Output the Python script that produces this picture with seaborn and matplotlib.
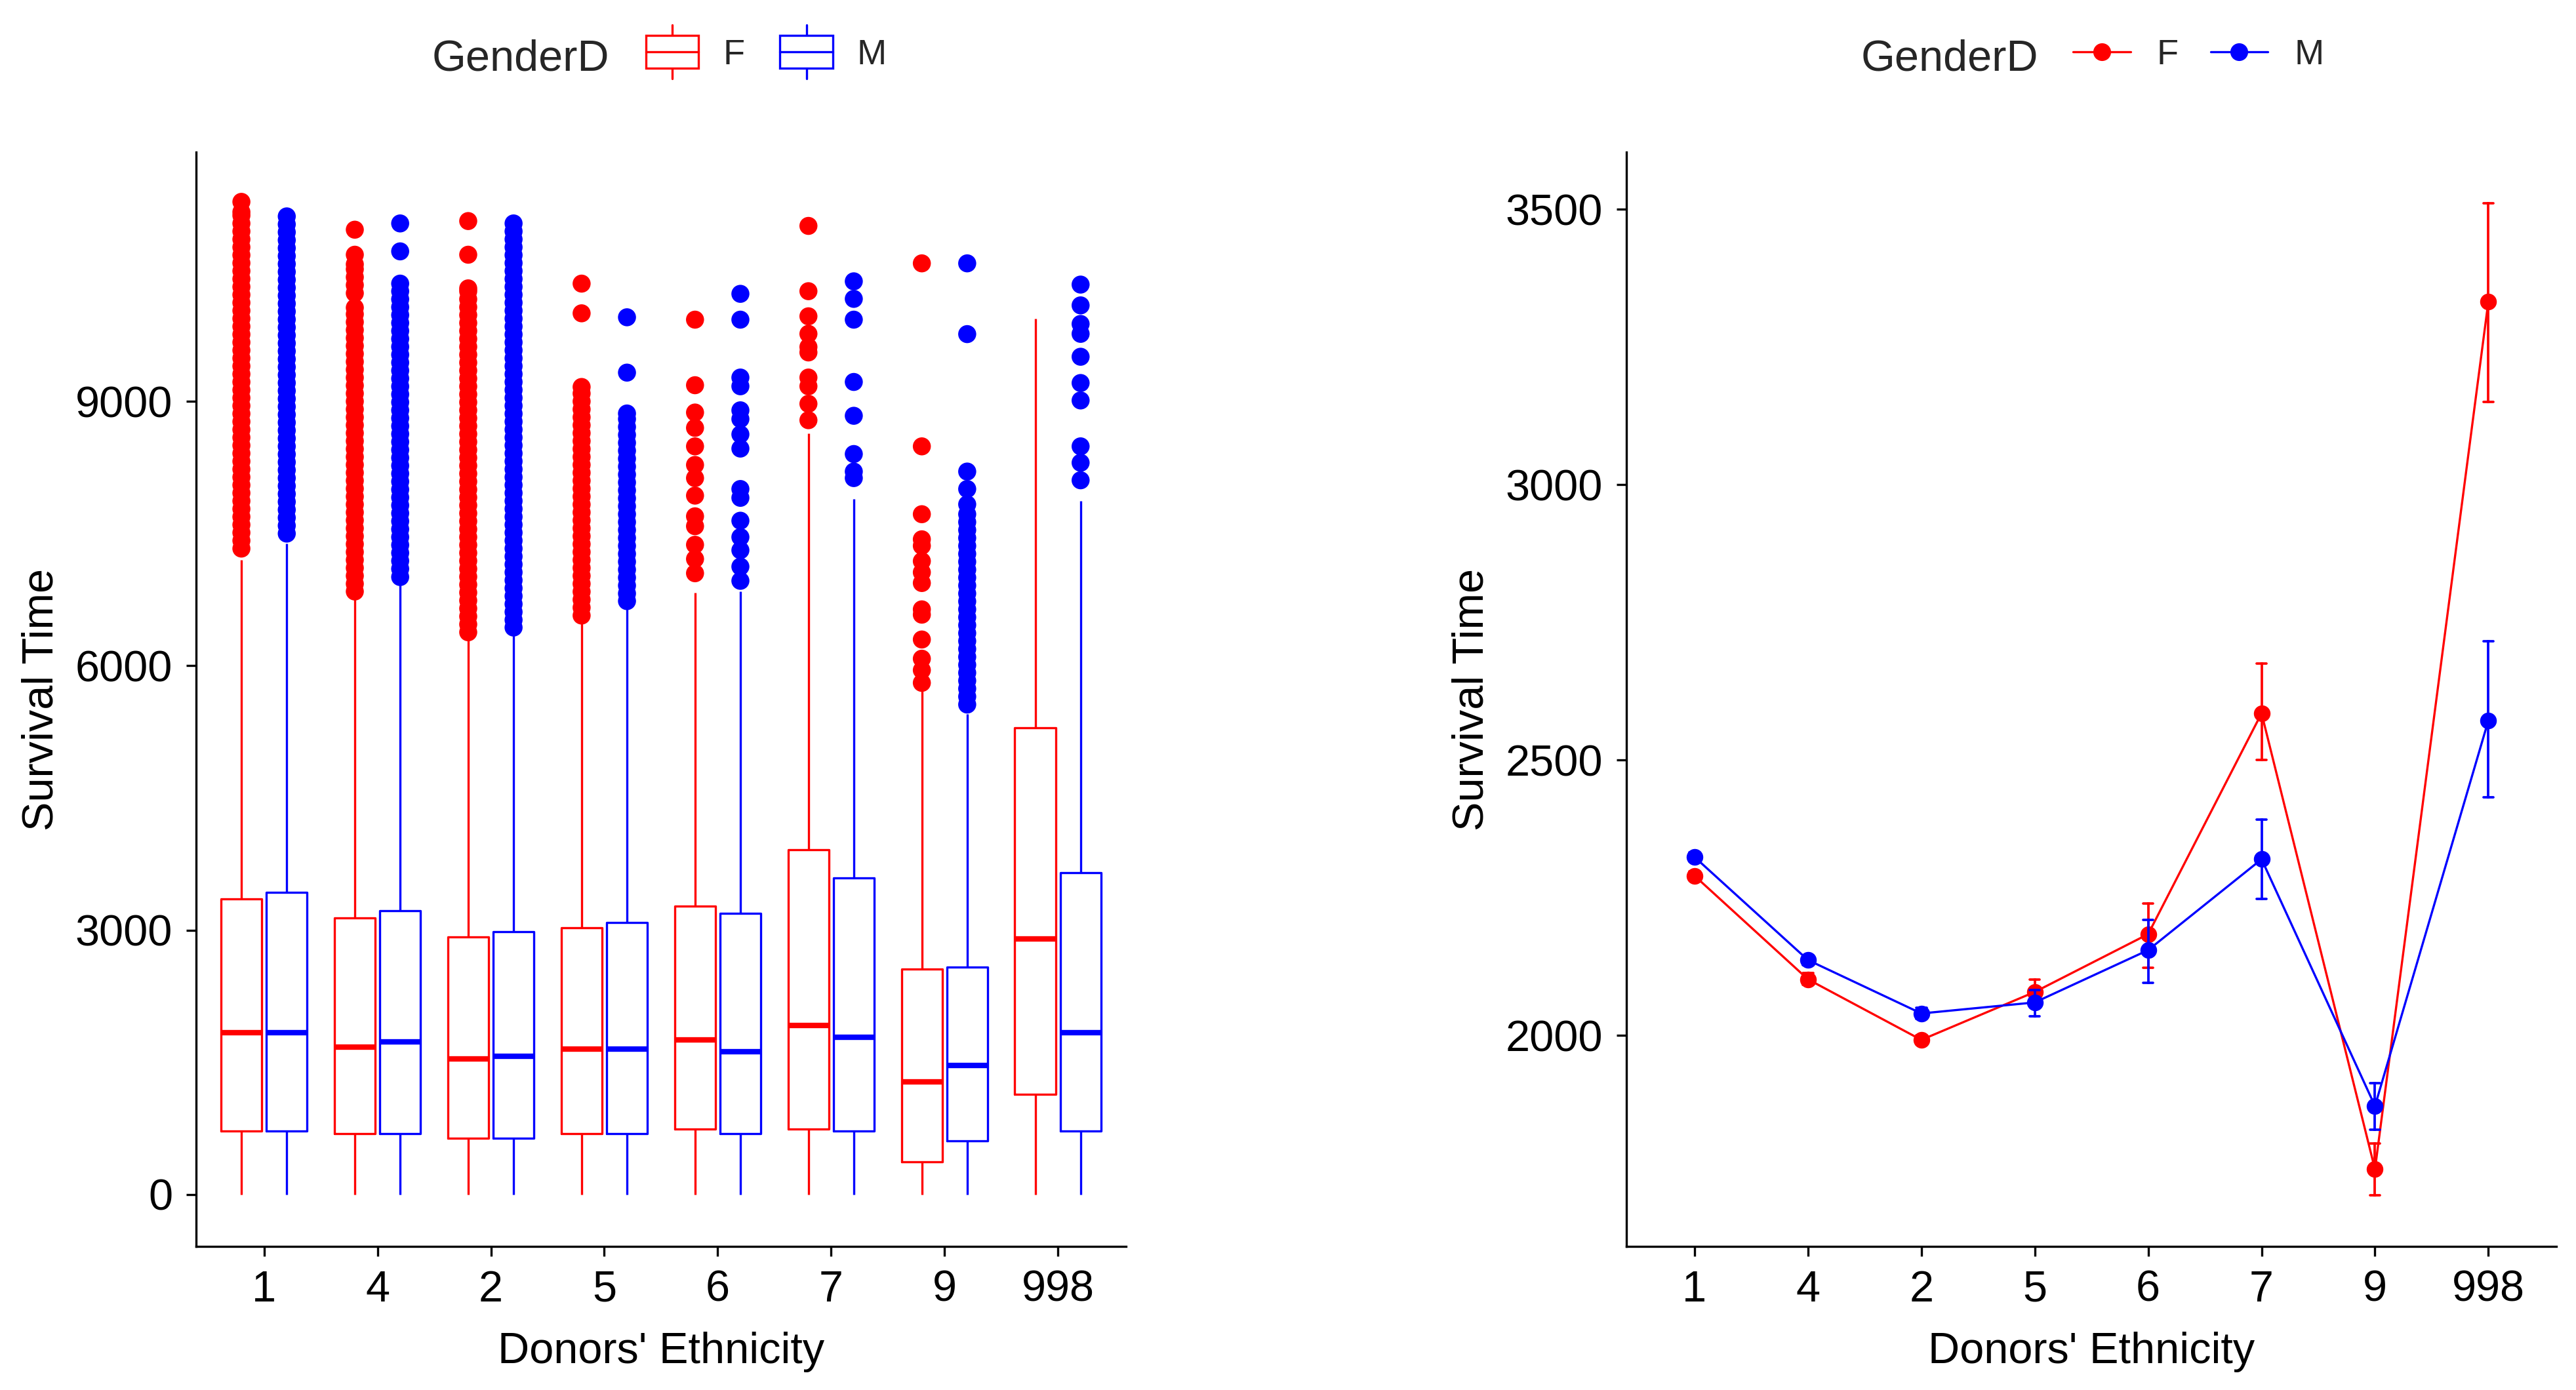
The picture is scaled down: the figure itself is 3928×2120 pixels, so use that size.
import pandas as pd
import numpy as np
import matplotlib
matplotlib.use("Agg")
import matplotlib.pyplot as plt
import seaborn as sns
from matplotlib.patches import Rectangle, Patch
from matplotlib.lines import Line2D
from matplotlib.legend_handler import HandlerBase

# Data
ethnicity = ["1", "4", "2", "5", "6", "7", "9", "998"]
genders = ["F", "M"]
colors = {"F": "#FF0000", "M": "#0000FF"}

# box statistics (survival time)
f_low = [0, 0, 0, 0, 0, 0, 0, 0]
f_q1 = [716, 687, 639, 687, 740, 740, 373, 1137]
f_med = [1839, 1674, 1539, 1650, 1757, 1916, 1278, 2899]
f_q3 = [3353, 3136, 2923, 3029, 3271, 3915, 2555, 5294]
f_high = [7200, 6760, 6298, 6489, 6827, 8638, 5752, 9941]

m_low = [0, 0, 0, 0, 0, 0, 0, 0]
m_q1 = [716, 687, 639, 687, 687, 716, 610, 716]
m_med = [1839, 1728, 1568, 1650, 1621, 1781, 1461, 1834]
m_q3 = [3431, 3218, 2981, 3087, 3189, 3591, 2579, 3649]
m_high = [7390, 6953, 6352, 6652, 6843, 7894, 5452, 7869]

# outliers above the upper whisker (dense runs are read as closely packed points)
f_out = {
    "1": [7330, 7420, 7510, 7600, 7690, 7780, 7870, 7960, 8050, 8140, 8230, 8320,
          8410, 8500, 8590, 8680, 8770, 8860, 8950, 9040, 9130, 9220, 9310, 9400,
          9490, 9580, 9670, 9760, 9850, 9940, 10030, 10120, 10210, 10300, 10390,
          10480, 10570, 10660, 10750, 10840, 10930, 11020, 11110, 11150, 11265],
    "4": [6843, 6930, 7020, 7110, 7200, 7290, 7380, 7470, 7560, 7650, 7740, 7830,
          7920, 8010, 8100, 8190, 8280, 8370, 8460, 8550, 8640, 8730, 8820, 8910,
          9000, 9090, 9180, 9270, 9360, 9450, 9540, 9630, 9720, 9810, 9900, 9990,
          10064, 10228, 10320, 10410, 10500, 10556, 10665, 10949],
    "2": [6380, 6470, 6560, 6650, 6740, 6830, 6920, 7010, 7100, 7190, 7280, 7370,
          7460, 7550, 7640, 7730, 7820, 7910, 8000, 8090, 8180, 8270, 8360, 8450,
          8540, 8630, 8720, 8810, 8900, 8990, 9080, 9170, 9260, 9350, 9440, 9530,
          9620, 9710, 9800, 9890, 9980, 10070, 10160, 10250, 10283, 10665, 11047],
    "5": [6570, 6660, 6750, 6840, 6930, 7020, 7110, 7200, 7290, 7380, 7470, 7560,
          7650, 7740, 7830, 7920, 8010, 8100, 8190, 8280, 8370, 8460, 8550, 8640,
          8730, 8820, 8910, 9000, 9090, 9164, 10000, 10337],
    "6": [7050, 7212, 7373, 7584, 7696, 7931, 8130, 8279, 8490, 8700, 8874, 9184, 9928],
    "7": [8787, 8973, 9172, 9271, 9556, 9618, 9767, 9966, 10251, 10992],
    "9": [5806, 5950, 6080, 6298, 6580, 6640, 6939, 7060, 7187, 7361, 7435, 7720,
          8490, 10567],
    "998": [],
}
m_out = {
    "1": [7500, 7590, 7680, 7770, 7860, 7950, 8040, 8130, 8220, 8310, 8400, 8490,
          8580, 8670, 8760, 8850, 8940, 9030, 9120, 9210, 9300, 9390, 9480, 9570,
          9660, 9750, 9840, 9930, 10020, 10110, 10200, 10290, 10380, 10470, 10560,
          10650, 10740, 10830, 10920, 11010, 11100],
    "4": [7007, 7100, 7190, 7280, 7370, 7460, 7550, 7640, 7730, 7820, 7910, 8000,
          8090, 8180, 8270, 8360, 8450, 8540, 8630, 8720, 8810, 8900, 8990, 9080,
          9170, 9260, 9350, 9440, 9530, 9620, 9710, 9800, 9890, 9980, 10070, 10160,
          10250, 10337, 10703, 11020],
    "2": [6434, 6520, 6610, 6700, 6790, 6880, 6970, 7060, 7150, 7240, 7330, 7420,
          7510, 7600, 7690, 7780, 7870, 7960, 8050, 8140, 8230, 8320, 8410, 8500,
          8590, 8680, 8770, 8860, 8950, 9040, 9130, 9220, 9310, 9400, 9490, 9580,
          9670, 9760, 9850, 9940, 10030, 10120, 10210, 10300, 10390, 10480, 10570,
          10660, 10750, 10840, 10930, 11020],
    "5": [6734, 6820, 6910, 7000, 7090, 7180, 7270, 7360, 7450, 7540, 7630, 7720,
          7810, 7900, 7990, 8080, 8170, 8260, 8350, 8440, 8530, 8620, 8710, 8800,
          8863, 9327, 9955],
    "6": [6964, 7125, 7311, 7460, 7646, 7906, 8006, 8465, 8626, 8800, 8899, 9172,
          9271, 9928, 10221],
    "7": [8130, 8204, 8403, 8837, 9221, 9928, 10164, 10363],
    "9": [5560, 5650, 5740, 5830, 5920, 6010, 6100, 6190, 6280, 6370, 6460, 6550,
          6640, 6730, 6820, 6910, 7000, 7090, 7180, 7270, 7360, 7450, 7540, 7630,
          7720, 7832, 8006, 8204, 9764, 10567],
    "998": [8105, 8304, 8490, 9011, 9209, 9507, 9767, 9879, 10090, 10326],
}

# mean survival time with error bar limits
f_mean = [2290, 2102, 1992, 2079, 2184, 2585, 1757, 3333]
f_err_lo = [2282, 2092, 1984, 2060, 2123, 2500, 1710, 3150]
f_err_hi = [2298, 2114, 2000, 2102, 2240, 2675, 1804, 3511]
m_mean = [2324, 2137, 2040, 2060, 2155, 2320, 1872, 2572]
m_err_lo = [2316, 2128, 2030, 2035, 2095, 2248, 1829, 2432]
m_err_hi = [2332, 2146, 2050, 2083, 2210, 2392, 1914, 2716]


class BoxHandler(HandlerBase):
    # ggplot-like box key: box, median line and whisker stubs
    def create_artists(self, legend, orig_handle, xdescent, ydescent,
                       width, height, fontsize, trans):
        c = orig_handle.get_edgecolor()
        x0, y0 = -xdescent, -ydescent
        yc = y0 + height / 2
        hb = height * 0.66
        hw = height * 1.08
        xc = x0 + width / 2
        lw = 0.8
        box = Rectangle((x0, yc - hb), width, 2 * hb, facecolor="white",
                        edgecolor=c, linewidth=lw, transform=trans)
        med = Line2D([x0, x0 + width], [yc, yc], color=c, lw=lw, transform=trans)
        w1 = Line2D([xc, xc], [yc + hb, yc + hw], color=c, lw=lw, transform=trans)
        w2 = Line2D([xc, xc], [yc - hb, yc - hw], color=c, lw=lw, transform=trans)
        return [w1, w2, box, med]


def main():
    sns.set_theme(style="ticks")
    plt.rcParams["font.family"] = ["Liberation Sans", "DejaVu Sans"]
    fs = 16
    lfs = 13

    # long-form tables
    box_rows = []
    stats = {"F": (f_low, f_q1, f_med, f_q3, f_high),
             "M": (m_low, m_q1, m_med, m_q3, m_high)}
    for g in genders:
        for i, e in enumerate(ethnicity):
            for arr in stats[g]:
                box_rows.append({"Ethnicity": e, "GenderD": g, "Survival": arr[i]})
    box_df = pd.DataFrame(box_rows)

    out_rows = []
    for g, outs in (("F", f_out), ("M", m_out)):
        for e in ethnicity:
            for v in outs[e]:
                out_rows.append({"Ethnicity": e, "GenderD": g, "Survival": v})
    out_df = pd.DataFrame(out_rows)

    pt_rows = []
    pts = {"F": (f_err_lo, f_mean, f_err_hi), "M": (m_err_lo, m_mean, m_err_hi)}
    for g in genders:
        for i, e in enumerate(ethnicity):
            for arr in pts[g]:
                pt_rows.append({"Ethnicity": e, "GenderD": g, "Survival": arr[i]})
    pt_df = pd.DataFrame(pt_rows)

    fig = plt.figure(figsize=(3928 / 300, 2120 / 300), dpi=300)
    ax1 = fig.add_axes([0.0761, 0.1033, 0.3610, 0.7873])
    ax2 = fig.add_axes([0.6314, 0.1033, 0.3610, 0.7873])

    # left: boxplots
    sns.boxplot(data=box_df, x="Ethnicity", y="Survival", hue="GenderD",
                order=ethnicity, hue_order=genders, palette=colors, fill=False,
                width=0.8, gap=0.1, linewidth=0.8, showfliers=False,
                showcaps=False, medianprops={"linewidth": 2.0},
                legend=False, ax=ax1)
    sns.stripplot(data=out_df, x="Ethnicity", y="Survival", hue="GenderD",
                  order=ethnicity, hue_order=genders, palette=colors,
                  jitter=False, dodge=True, size=6.6, linewidth=0,
                  legend=False, ax=ax1)
    ax1.set_ylim(-590, 11830)
    ax1.set_yticks([0, 3000, 6000, 9000])
    ax1.set_xlim(-0.6, 7.6)

    # right: means with error bars
    sns.pointplot(data=pt_df, x="Ethnicity", y="Survival", hue="GenderD",
                  order=ethnicity, hue_order=genders, palette=colors,
                  estimator="median", errorbar=lambda v: (v.min(), v.max()),
                  capsize=0.09, markersize=5.5, linewidth=0.8,
                  err_kws={"linewidth": 0.9}, legend=False, ax=ax2)
    ax2.set_ylim(1617, 3604)
    ax2.set_yticks([2000, 2500, 3000, 3500])
    ax2.set_xlim(-0.6, 7.6)

    for ax in (ax1, ax2):
        sns.despine(ax=ax)
        for s in ("left", "bottom"):
            ax.spines[s].set_linewidth(0.8)
            ax.spines[s].set_color("black")
        ax.tick_params(axis="both", length=3.6, width=0.8, color="black",
                       labelsize=fs, labelcolor="black", pad=5)
        ax.set_xlabel("Donors' Ethnicity", fontsize=fs, color="black")
        ax.set_ylabel("Survival Time", fontsize=fs, color="black")
        ax.xaxis.set_label_coords(0.5, -0.078)
        ax.yaxis.set_label_coords(-0.144, 0.5)
        ax.grid(False)

    # legends on top, title to the left of the keys
    fig.text(0.1678, 0.9495, "GenderD", fontsize=fs, va="baseline", ha="left")
    fig.text(0.7225, 0.9495, "GenderD", fontsize=fs, va="baseline", ha="left")

    box_handles = [Patch(edgecolor=colors[g], facecolor="white", label=g) for g in genders]
    fig.legend(handles=box_handles, labels=genders, loc="center left",
               bbox_to_anchor=(0.2508, 0.9604), ncol=2, frameon=False,
               fontsize=lfs, borderpad=0, borderaxespad=0, handlelength=1.48,
               handletextpad=0.68, columnspacing=1.0,
               handler_map={Patch: BoxHandler()})

    pt_handles = [Line2D([], [], color=colors[g], marker="o", markersize=5.5,
                         lw=0.8, label=g) for g in genders]
    fig.legend(handles=pt_handles, labels=genders, loc="center left",
               bbox_to_anchor=(0.8047, 0.9604), ncol=2, frameon=False,
               fontsize=lfs, borderpad=0, borderaxespad=0, handlelength=1.62,
               handletextpad=0.74, columnspacing=0.9)

    fig.savefig("out.png", dpi=300, facecolor="white")
    plt.close(fig)


if __name__ == "__main__":
    main()
